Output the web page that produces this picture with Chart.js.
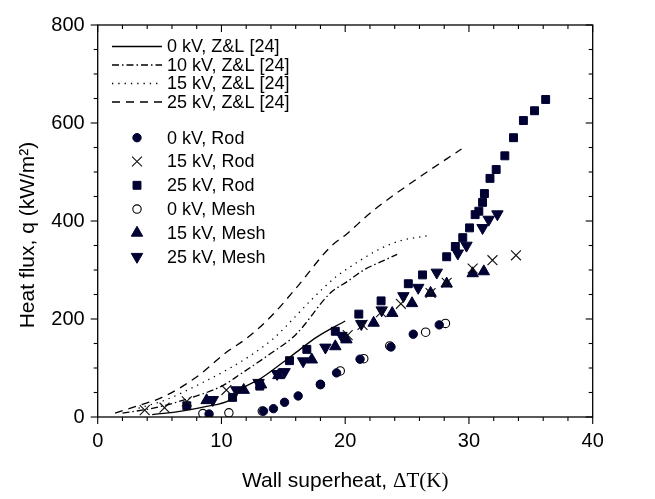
<!DOCTYPE html>
<html>
<head>
<meta charset="utf-8">
<script src="https://cdn.jsdelivr.net/npm/chart.js@4.4.0/dist/chart.umd.min.js"></script>
<style>
  html, body { margin: 0; padding: 0; background: #fff; }
</style>
</head>
<body>
<canvas id="heatChart" width="655" height="499"></canvas>
<script>
// Z&L [24] correlation curves
const zl0X = [4.4, 6.5, 8.7, 10.7, 11.8, 13.2, 14.9, 16.3, 17.7, 20.0];
const zl0Y = [5, 11, 21, 35, 60, 79, 110, 137, 163, 196];
const zl10X = [2.0, 4.5, 7.0, 10.1, 11.5, 14.0, 16.0, 18.8, 20.2, 21.5, 23.0, 24.2];
const zl10Y = [8, 18, 35, 64, 87, 130, 168, 253, 277, 300, 318, 332];
const zl15X = [3.3, 5.5, 8.3, 10.7, 12.5, 14.2, 15.1, 17.3, 19.3, 20.5, 22.8, 24.5, 26.7];
const zl15Y = [18, 35, 68, 100, 128, 160, 182, 240, 287, 308, 343, 360, 370];
const zl25X = [1.4, 3.5, 5.2, 7.9, 10.5, 12.0, 14.0, 16.0, 18.8, 20.1, 22.2, 25.8, 29.4];
const zl25Y = [8, 25, 40, 80, 134, 160, 205, 262, 347, 373, 420, 486, 547];

// measured points
const rod0X = [9.0, 13.4, 14.2, 15.1, 16.2, 18.0, 19.3, 21.2, 23.7, 25.5, 27.6];
const rod0Y = [6, 12, 17, 30, 43, 67, 90, 118, 143, 169, 188];
const rod15X = [3.8, 5.4, 7.2, 10.4, 20.2, 21.4, 22.9, 24.5, 26.9, 28.2, 30.3, 31.9, 33.8];
const rod15Y = [14, 19, 32, 55, 167, 188, 214, 231, 253, 274, 303, 320, 330];
const rod25X = [7.2, 10.9, 13.1, 15.5, 16.9, 19.2, 21.1, 22.9, 25.1, 26.25, 28.2, 28.9, 29.5,
  30.05, 30.5, 30.8, 31.1, 31.25, 31.7, 32.2, 32.9, 33.6, 34.4, 35.3, 36.2];
const rod25Y = [23, 40, 63, 115, 138, 175, 210, 237, 272, 290, 327, 348, 366,
  386, 413, 420, 438, 456, 487, 505, 533, 570, 605, 625, 648];
const mesh0X = [8.5, 10.6, 13.3, 18.0, 19.6, 21.5, 23.6, 26.5, 28.1];
const mesh0Y = [7, 8.5, 12, 66, 94, 119, 145, 173, 191];
const mesh15X = [8.8, 11.8, 13.2, 14.6, 17.3, 19.2, 20.1, 22.3, 23.8, 25.4, 26.9, 28.2, 30.3, 31.2];
const mesh15Y = [34, 55, 66, 85, 117, 144, 158, 192, 212, 232, 253, 272, 293, 297];
const mesh25X = [9.3, 11.2, 13.0, 14.5, 15.1, 16.6, 18.4, 19.7, 21.3, 22.95, 24.7, 25.9, 27.4,
  29.1, 29.8, 31.1, 31.6, 32.3];
const mesh25Y = [35, 55, 70, 88, 92, 114, 142, 166, 190, 218, 247, 264, 295,
  334, 350, 386, 403, 414];

const labels = [
  "0 kV, Z&L [24]", "10 kV, Z&L [24]", "15 kV, Z&L [24]", "25 kV, Z&L [24]",
  "0 kV, Rod", "15 kV, Rod", "25 kV, Rod", "0 kV, Mesh", "15 kV, Mesh", "25 kV, Mesh",
];

const NAVY = "#000033";
const SANS = "'Liberation Sans', Arial, sans-serif";
const SERIF = "'Liberation Serif', 'Times New Roman', serif";

const pts = (xs, ys) => xs.map((x, i) => ({ x, y: ys[i] }));

function curve(label, xs, ys, dash) {
  return {
    type: "line", label, data: pts(xs, ys),
    borderColor: "#000", borderWidth: 1.3, borderDash: dash,
    pointRadius: 0, fill: false, tension: 0.4, cubicInterpolationMode: "monotone",
  };
}

function marks(label, xs, ys, style, radius, opts = {}) {
  return Object.assign({
    type: "scatter", label, data: pts(xs, ys),
    pointStyle: style, pointRadius: radius, pointHoverRadius: radius,
    backgroundColor: NAVY, borderColor: NAVY, borderWidth: 1, pointRotation: 0,
  }, opts);
}

const datasets = [
  curve(labels[0], zl0X, zl0Y, []),
  curve(labels[1], zl10X, zl10Y, [7, 3, 1.5, 3]),
  curve(labels[2], zl15X, zl15Y, [1.3, 5]),
  curve(labels[3], zl25X, zl25Y, [8, 6]),
  marks(labels[4], rod0X, rod0Y, "circle", 4.2),
  marks(labels[5], rod15X, rod15Y, "crossRot", 7, { borderWidth: 1.1, borderColor: "#111" }),
  marks(labels[6], rod25X, rod25Y, "rect", 5.6),
  marks(labels[7], mesh0X, mesh0Y, "circle", 4.2, { backgroundColor: "#fff", borderColor: "#000", borderWidth: 1.1 }),
  marks(labels[8], mesh15X, mesh15Y, "triangle", 6.6),
  marks(labels[9], mesh25X, mesh25Y, "triangle", 6.6, { pointRotation: 180 }),
];

function markerAt(ctx, ds, x, y) {
  ctx.save();
  ctx.fillStyle = ds.backgroundColor;
  ctx.strokeStyle = ds.borderColor;
  ctx.lineWidth = ds.borderWidth;
  Chart.helpers.drawPoint(ctx, {
    pointStyle: ds.pointStyle, radius: ds.pointRadius,
    rotation: ds.pointRotation || 0, borderWidth: ds.borderWidth,
  }, x, y);
  ctx.restore();
}

const decorations = {
  id: "decorations",
  afterDraw(chart) {
    const { ctx, chartArea: a, scales } = chart;
    const sx = scales.x, sy = scales.y;
    ctx.save();
    ctx.strokeStyle = "#000";
    ctx.lineWidth = 1.3;
    ctx.strokeRect(a.left, a.top, a.right - a.left, a.bottom - a.top);

    const seg = (x1, y1, x2, y2) => {
      ctx.beginPath(); ctx.moveTo(x1, y1); ctx.lineTo(x2, y2); ctx.stroke();
    };
    ctx.lineWidth = 1.1;
    for (let v = 0; v <= 40; v += 2) {
      const px = sx.getPixelForValue(v);
      const len = v % 10 === 0 ? 7 : 4;
      seg(px, a.bottom, px, a.bottom + len);
      seg(px, a.top, px, a.top + len);
    }
    for (let v = 0; v <= 800; v += 50) {
      const py = sy.getPixelForValue(v);
      const len = v % 200 === 0 ? 7 : 4;
      seg(a.left - len, py, a.left, py);
      seg(a.right - len, py, a.right, py);
    }

    // axis titles
    ctx.fillStyle = "#000";
    ctx.textBaseline = "middle";
    ctx.font = "21px " + SANS;
    const t1 = "Wall superheat, ";
    ctx.font = "21px " + SANS;
    const w1 = ctx.measureText(t1).width;
    ctx.font = "21px " + SERIF;
    const w2 = ctx.measureText("\u0394T(K)").width;
    const cx = (a.left + a.right) / 2;
    let tx = cx - (w1 + w2) / 2;
    ctx.textAlign = "left";
    ctx.font = "21px " + SANS;
    ctx.fillText(t1, tx, 481);
    ctx.font = "21px " + SERIF;
    ctx.fillText("\u0394T(K)", tx + w1, 481);

    ctx.save();
    ctx.translate(28, 235);
    ctx.rotate(-Math.PI / 2);
    ctx.textAlign = "center";
    ctx.font = "21px " + SANS;
    ctx.fillText("Heat flux, q (kW/m\u00B2)", 0, 0);
    ctx.restore();

    // legend
    const rows = [46.5, 65, 83.5, 102, 137.7, 161.5, 185.3, 209.1, 232.9, 256.7];
    ctx.font = "18px " + SANS;
    ctx.textAlign = "left";
    chart.data.datasets.forEach((ds, i) => {
      const ry = rows[i];
      if (ds.type === "line") {
        ctx.save();
        ctx.strokeStyle = "#000";
        ctx.lineWidth = 1.3;
        ctx.setLineDash(ds.borderDash);
        seg(112, ry, 162, ry);
        ctx.restore();
      } else {
        markerAt(ctx, ds, 137, ry);
      }
      ctx.fillStyle = "#000";
      ctx.fillText(ds.label, 167, ry + 1);
    });
    ctx.restore();
  },
};

new Chart(document.getElementById("heatChart"), {
  data: { datasets },
  options: {
    responsive: false,
    animation: false,
    layout: { padding: { left: 0, top: 16, right: 62.3, bottom: 0 } },
    plugins: { legend: { display: false }, tooltip: { enabled: false } },
    scales: {
      x: {
        type: "linear", min: 0, max: 40,
        grid: { display: false, drawTicks: false },
        border: { display: false },
        ticks: { stepSize: 10, padding: 12, color: "#000", font: { family: SANS, size: 20 } },
        afterFit: (s) => { s.height = 82; },
      },
      y: {
        type: "linear", min: 0, max: 800,
        grid: { display: false, drawTicks: false },
        border: { display: false },
        ticks: { stepSize: 200, padding: 13, color: "#000", font: { family: SANS, size: 20 } },
        afterFit: (s) => { s.width = 97.7; },
      },
    },
  },
  plugins: [decorations],
});
</script>
</body>
</html>
